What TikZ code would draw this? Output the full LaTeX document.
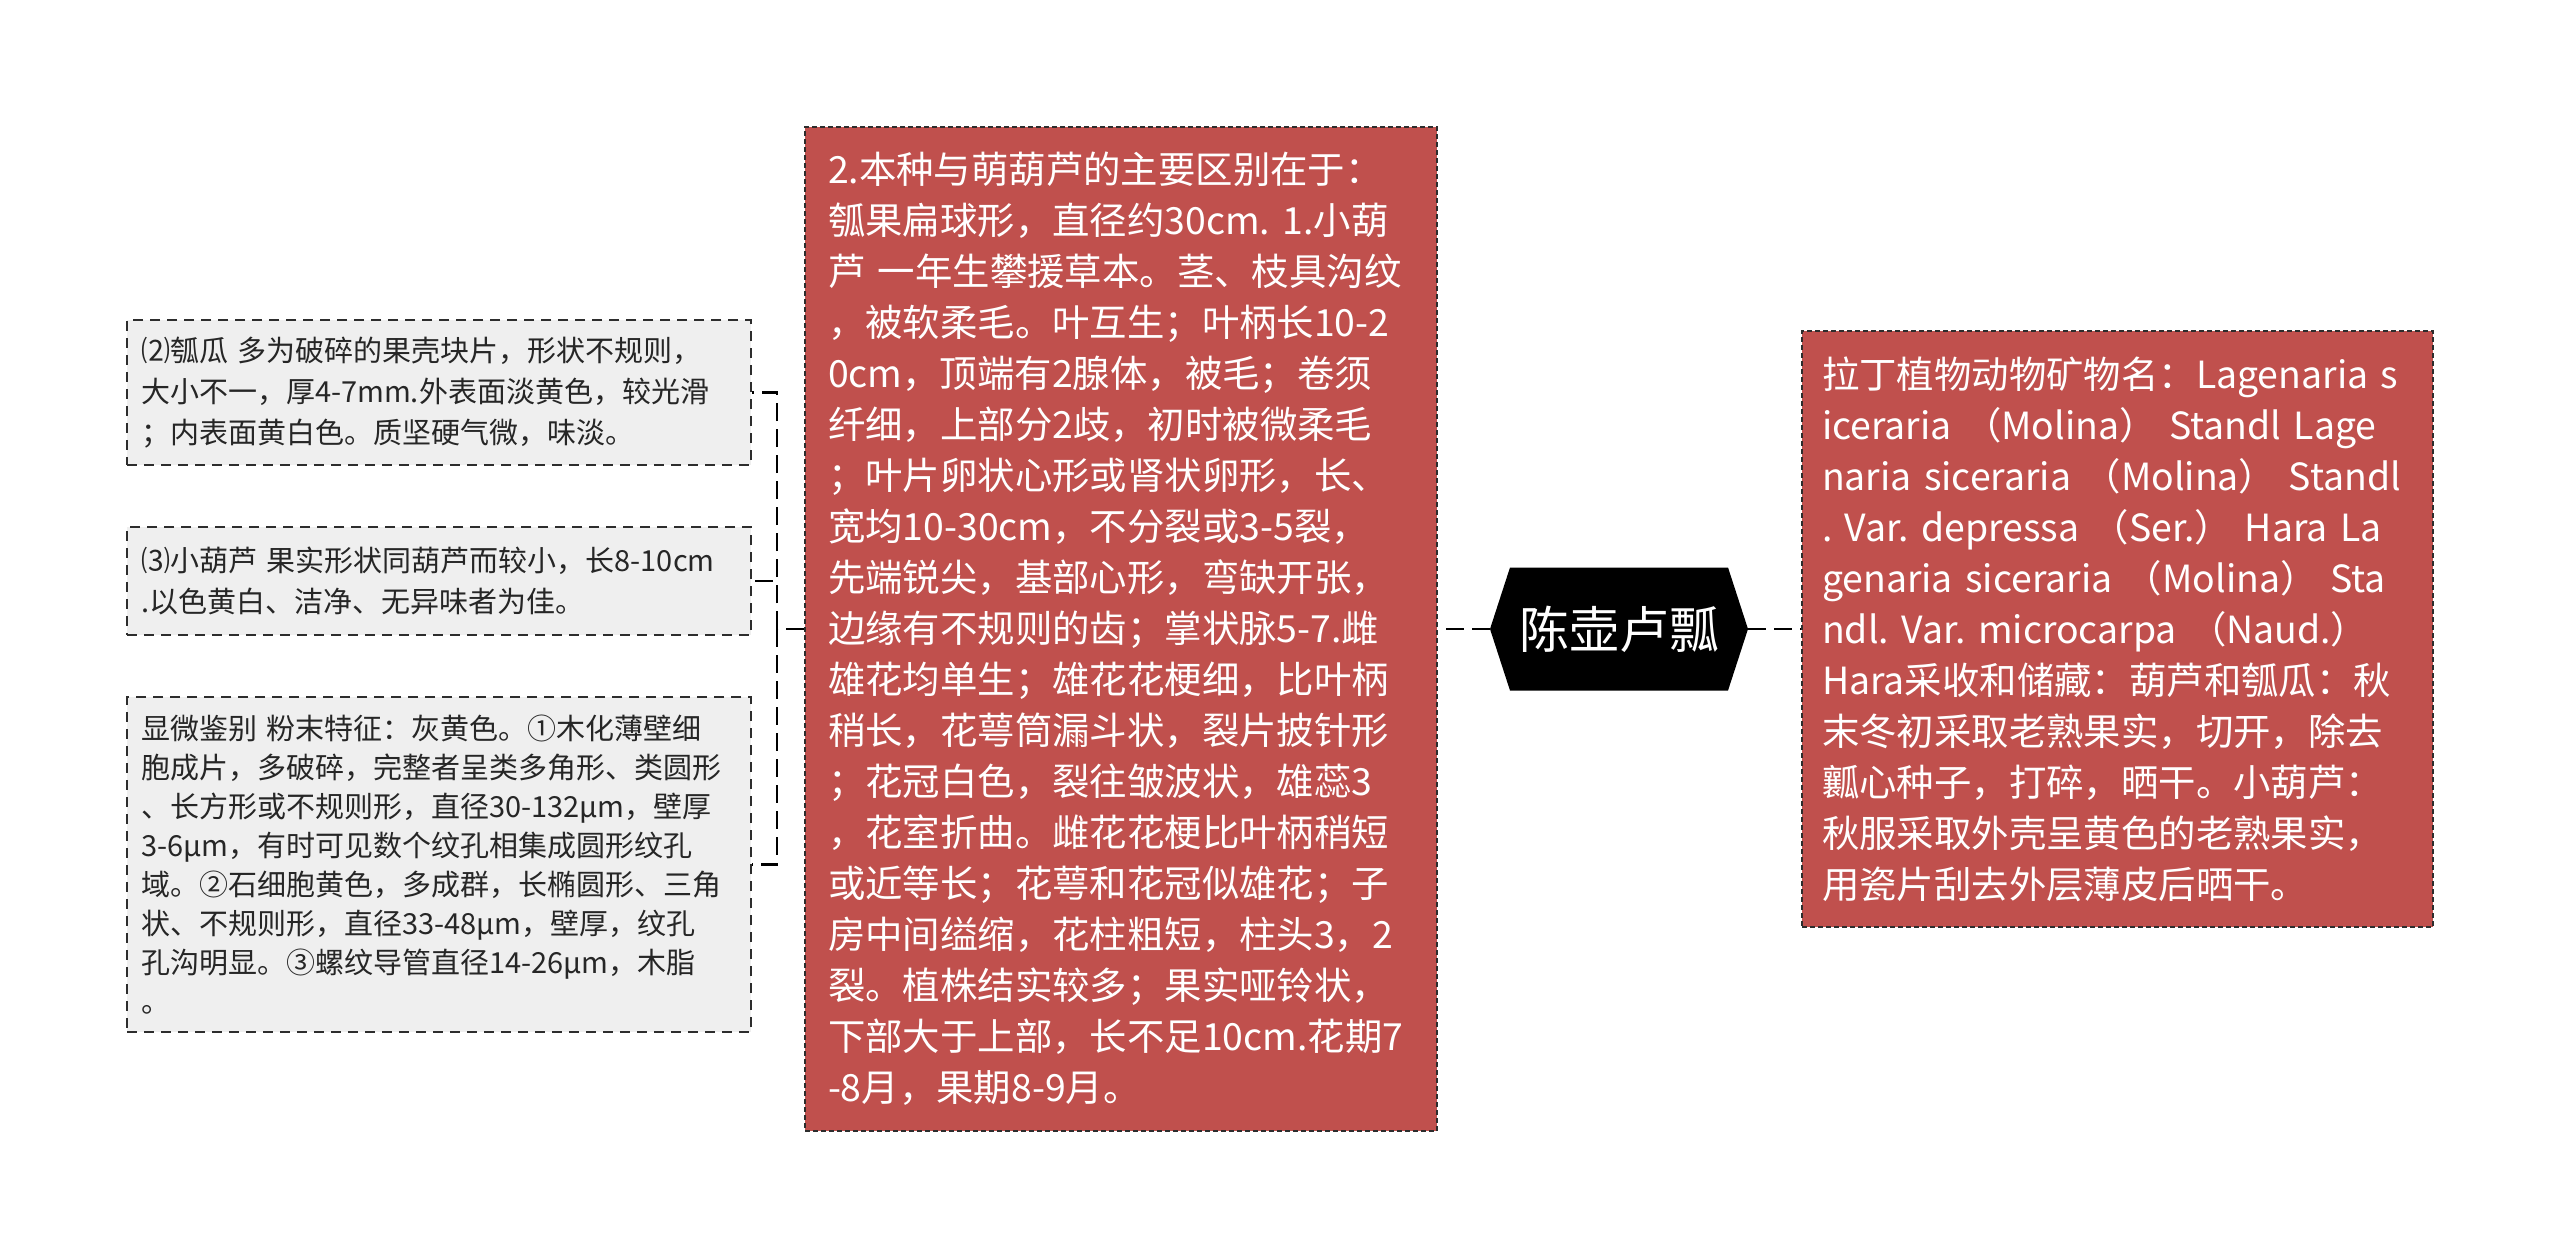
\documentclass[tikz,border=0pt]{standalone}
\usepackage{fontspec}
\setmainfont{Noto Sans CJK SC}
\usetikzlibrary{shapes.symbols}
\definecolor{boxred}{RGB}{192,80,77}
\definecolor{boxgray}{RGB}{239,239,239}
\definecolor{edgegray}{RGB}{45,45,45}
\begin{document}
\begin{tikzpicture}[x=0.5pt,y=-0.5pt,
  leaf/.style={draw=edgegray,fill=boxgray,dash pattern=on 5pt off 3.5pt,line width=0.9pt,
    minimum width=312pt,inner xsep=7pt,text width=298pt,align=left,text=black!85,
    font=\fontsize{14.5}{20.4}\selectfont},
  redbox/.style={draw=edgegray,fill=boxred,dash pattern=on 2.5pt off 1.5pt,line width=0.7pt,
    text=white,align=left,font=\fontsize{18.7}{25.5}\selectfont},
  rootbox/.style={signal,signal to=west and east,signal pointer angle=144,fill=black,
    text=white,minimum width=129pt,minimum height=61.5pt,inner sep=0pt,
    font=\fontsize{25}{30}\selectfont},
  link/.style={draw=black,line width=1.4pt,dash pattern=on 9pt off 4pt}]
\useasboundingbox (0,0) rectangle (2560,1259);
%
\node[rootbox] (root) at (1619,629) {陈壶卢瓢};
%
\node[redbox,minimum width=316pt,minimum height=502pt,inner xsep=11.5pt,text width=293pt]
  (bieqv) at (1121,629)
  {2.本种与萌葫芦的主要区别在于：\\
   瓠果扁球形，直径约30cm.~1.小葫\\
   芦~一年生攀援草本。茎、枝具沟纹\\
   ，被软柔毛。叶互生；叶柄长10-2\\
   0cm，顶端有2腺体，被毛；卷须\\
   纤细，上部分2歧，初时被微柔毛\\
   ；叶片卵状心形或肾状卵形，长、\\
   宽均10-30cm，不分裂或3-5裂，\\
   先端锐尖，基部心形，弯缺开张，\\
   边缘有不规则的齿；掌状脉5-7.雌\\
   雄花均单生；雄花花梗细，比叶柄\\
   稍长，花萼筒漏斗状，裂片披针形\\
   ；花冠白色，裂往皱波状，雄蕊3\\
   ，花室折曲。雌花花梗比叶柄稍短\\
   或近等长；花萼和花冠似雄花；子\\
   房中间缢缩，花柱粗短，柱头3，2\\
   裂。植株结实较多；果实哑铃状，\\
   下部大于上部，长不足10cm.花期7\\
   -8月，果期8-9月。};
%
\node[redbox,minimum width=315.5pt,minimum height=298pt,inner xsep=10pt,text width=295.5pt]
  (lading) at (2117.5,629)
  {拉丁植物动物矿物名：Lagenaria~s\\
   iceraria~（Molina）~Standl~Lage\\
   naria~siceraria~（Molina）~Standl\\
   .~Var.~depressa~（Ser.）~Hara~La\\
   genaria~siceraria~（Molina）~Sta\\
   ndl.~Var.~microcarpa~（Naud.）\\
   Hara采收和储藏：葫芦和瓠瓜：秋\\
   末冬初采取老熟果实，切开，除去\\
   瓤心种子，打碎，晒干。小葫芦：\\
   秋服采取外壳呈黄色的老熟果实，\\
   用瓷片刮去外层薄皮后晒干。};
%
\node[leaf,minimum height=72.5pt] (guaqiao) at (439,392.5)
  {⑵瓠瓜~多为破碎的果壳块片，形状不规则，\\
   大小不一，厚4-7mm.外表面淡黄色，较光滑\\
   ；内表面黄白色。质坚硬气微，味淡。};
\node[leaf,minimum height=54pt] (xiaohulu) at (439,581)
  {⑶小葫芦~果实形状同葫芦而较小，长8-10cm\\
   .以色黄白、洁净、无异味者为佳。};
\node[leaf,minimum height=167.5pt,font=\fontsize{14.5}{19.5}\selectfont] (xianwei) at (439,864.5)
  {显微鉴别~粉末特征：灰黄色。①木化薄壁细\\
   胞成片，多破碎，完整者呈类多角形、类圆形\\
   、长方形或不规则形，直径30-132μm，壁厚\\
   3-6μm，有时可见数个纹孔相集成圆形纹孔\\
   域。②石细胞黄色，多成群，长椭圆形、三角\\
   状、不规则形，直径33-48μm，壁厚，纹孔\\
   孔沟明显。③螺纹导管直径14-26μm，木脂\\
   。};
%
\coordinate (fork) at (777,629);
\draw[link] (bieqv.west) -- (fork);
\draw[link] (fork) |- (guaqiao.east);
\draw[link] (fork) |- (xiaohulu.east);
\draw[link] (fork) |- (xianwei.east);
\draw[link] (root.west) -- (bieqv.east);
\draw[link] (root.east) -- (lading.west);
\end{tikzpicture}
\end{document}
